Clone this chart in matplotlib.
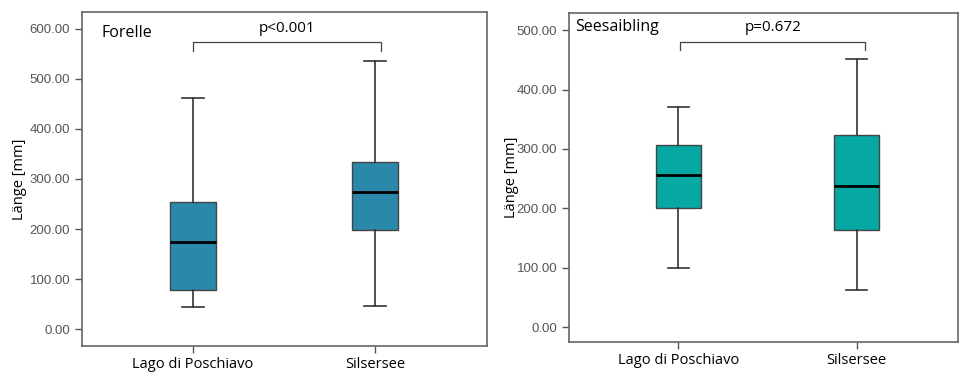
import matplotlib
matplotlib.use('Agg')
import matplotlib.pyplot as plt

categories = ['Lago di Poschiavo', 'Silsersee']

# Forelle: whislo, q1, med, q3, whishi
forelle_lo = [45, 47]
forelle_q1 = [78, 199]
forelle_med = [175, 274]
forelle_q3 = [254, 334]
forelle_hi = [462, 535]

# Seesaibling
saibling_lo = [99, 63]
saibling_q1 = [200, 164]
saibling_med = [257, 237]
saibling_q3 = [306, 324]
saibling_hi = [370, 451]

forelle_ticks = [0, 100, 200, 300, 400, 500, 600]
saibling_ticks = [0, 100, 200, 300, 400, 500]

plt.rcParams['font.family'] = ['Liberation Sans', 'DejaVu Sans']
LABEL_FONT = ['Open Sans', 'DejaVu Sans']


def make_stats(lo, q1, med, q3, hi):
    return [dict(whislo=lo[i], q1=q1[i], med=med[i], q3=q3[i], whishi=hi[i], fliers=[])
            for i in range(len(lo))]


def draw_panel(ax, stats, color, ticks, ylim, xlim, name, name_xy, ptext, bracket, lpad):
    ax.bxp(stats, positions=[0, 1], widths=0.25, patch_artist=True,
           boxprops=dict(facecolor=color, edgecolor='#444444', linewidth=1.0),
           medianprops=dict(color='black', linewidth=2),
           whiskerprops=dict(color='#333333', linewidth=1.2),
           capprops=dict(color='#333333', linewidth=1.2),
           capwidths=0.12, showfliers=False)
    ax.set_xlim(*xlim)
    ax.set_ylim(*ylim)
    ax.set_yticks(ticks)
    ax.set_yticklabels(['%.2f' % t for t in ticks], color='#555555', fontsize=9.5)
    ax.set_xticks([0, 1])
    ax.set_xticklabels(categories, fontsize=10.5, family=LABEL_FONT)
    ax.set_ylabel('Länge [mm]', fontsize=10.5, family=LABEL_FONT, labelpad=lpad)
    ax.tick_params(axis='both', direction='out', length=5, color='#555555', width=1)
    ax.tick_params(axis='x', pad=3)
    for s in ax.spines.values():
        s.set_color('#666666')
        s.set_linewidth(1.2)
    ax.text(name_xy[0], name_xy[1], name, transform=ax.transAxes, fontsize=11.5,
            family=LABEL_FONT, va='center', ha='left')
    x0, x1, ytop, ybot = bracket
    ax.plot([x0, x0, x1, x1], [ybot, ytop, ytop, ybot], color='#444444', linewidth=0.9,
            clip_on=False)
    ax.text((x0 + x1) / 2, ptext, 'p<0.001' if name == 'Forelle' else 'p=0.672',
            ha='center', va='center', fontsize=11, family=LABEL_FONT)


fig = plt.figure(figsize=(9.59, 3.77), dpi=100)
ax1 = fig.add_axes([82 / 959, 1 - 346 / 377, 405 / 959, 334 / 377])
ax2 = fig.add_axes([569 / 959, 1 - 342 / 377, 389 / 959, 329 / 377])

draw_panel(ax1, make_stats(forelle_lo, forelle_q1, forelle_med, forelle_q3, forelle_hi),
           '#2a89ab', forelle_ticks, (-33, 633), (-0.61, 1.615),
           'Forelle', (0.049, 0.937), 600, (0.0, 1.03, 573, 556), 2)
draw_panel(ax2, make_stats(saibling_lo, saibling_q1, saibling_med, saibling_q3, saibling_hi),
           '#05a8a3', saibling_ticks, (-25, 529), (-0.613, 1.569),
           'Seesaibling', (0.015, 0.957), 505, (0.01, 1.05, 481, 466), -2)

fig.savefig('out.png', dpi=100)
